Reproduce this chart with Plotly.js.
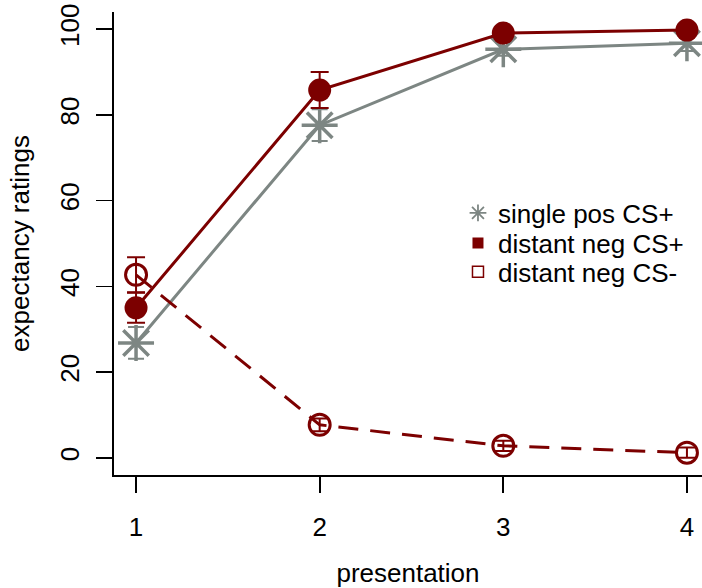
<!DOCTYPE html>
<html>
<head>
<meta charset="utf-8">
<script src="https://cdn.plot.ly/plotly-3.0.1.min.js"></script>
<style>html,body{margin:0;padding:0;background:#fff;}#chart{width:702px;height:588px;}</style>
</head>
<body>
<div id="chart"></div>
<script>
const presentation = [1, 2, 3, 4];
const tickLabels = ["1", "2", "3", "4"];
const singlePos = [26.8, 77.6, 95.3, 96.7];
const singlePosErr = [3.7, 3.7, 1.5, 1.8];
const distantNegPlus = [35.0, 85.8, 99.1, 99.8];
const distantNegPlusErr = [3.5, 4.2, 0.8, 0.5];
const distantNegMinus = [42.7, 7.7, 2.8, 1.2];
const distantNegMinusErr = [4.1, 1.5, 1.2, 1.2];
const seriesNames = ["single pos CS+", "distant neg CS+", "distant neg CS-"];

const RED = "#7c0000";
const GRAY = "#7d8683";
const FONT = "Liberation Sans, Arial, sans-serif";

const traces = [
  {
    x: presentation, y: singlePos, type: "scatter", mode: "lines+markers",
    line: {color: GRAY, width: 3},
    marker: {symbol: "asterisk-open", size: 30, color: GRAY, line: {color: GRAY, width: 3.5}},
    error_y: {type: "data", array: singlePosErr, visible: true, color: GRAY, thickness: 2, width: 8},
    showlegend: false, cliponaxis: false
  },
  {
    x: presentation, y: distantNegMinus, type: "scatter", mode: "lines+markers",
    line: {color: RED, width: 3, dash: "20px,12px"},
    marker: {symbol: "circle-open", size: 21, color: RED, line: {color: RED, width: 3}},
    error_y: {type: "data", array: distantNegMinusErr, visible: true, color: RED, thickness: 2, width: 9},
    showlegend: false, cliponaxis: false
  },
  {
    x: presentation, y: distantNegPlus, type: "scatter", mode: "lines+markers",
    line: {color: RED, width: 3},
    marker: {symbol: "circle", size: 23, color: RED, line: {width: 0}},
    error_y: {type: "data", array: distantNegPlusErr, visible: true, color: RED, thickness: 2, width: 9},
    showlegend: false, cliponaxis: false
  },
  {
    x: [null], y: [null], type: "scatter", mode: "markers", name: seriesNames[0], legend: "legend",
    marker: {symbol: "asterisk-open", size: 14, color: GRAY, line: {color: GRAY, width: 1.8}}
  },
  {
    x: [null], y: [null], type: "scatter", mode: "markers", name: seriesNames[1], legend: "legend2",
    marker: {symbol: "square", size: 11, color: RED, line: {width: 0}}
  },
  {
    x: [null], y: [null], type: "scatter", mode: "markers", name: seriesNames[2], legend: "legend3",
    marker: {symbol: "square-open", size: 11, color: RED, line: {color: RED, width: 1.5}}
  }
];

function leg(y) {
  return {x: 0.585, y: y, xanchor: "left", yanchor: "middle", bgcolor: "rgba(0,0,0,0)",
          borderwidth: 0, font: {size: 26, family: FONT, color: "#000"}};
}

const layout = {
  width: 702, height: 588,
  margin: {l: 114, r: 0, t: 12, b: 113, pad: 0},
  paper_bgcolor: "#fff", plot_bgcolor: "#fff",
  font: {family: FONT, size: 26, color: "#000"},
  showlegend: true,
  legend: leg(0.566),
  legend2: leg(0.501),
  legend3: leg(0.4385),
  xaxis: {
    range: [0.88, 4.082], tickvals: presentation, ticktext: tickLabels,
    showline: true, linecolor: "#000", linewidth: 1.7, mirror: false,
    ticks: "outside", ticklen: 16, tickwidth: 1.7, tickcolor: "#000",
    ticklabelstandoff: 12,
    showgrid: false, zeroline: false, automargin: false,
    tickfont: {size: 26},
    title: {text: "presentation", font: {size: 26}, standoff: 23}
  },
  yaxis: {
    range: [-4, 104], tickvals: [0, 20, 40, 60, 80, 100],
    showline: true, linecolor: "#000", linewidth: 1.7, mirror: false,
    ticks: "outside", ticklen: 16, tickwidth: 1.7, tickcolor: "#000",
    tickangle: -90, ticklabelstandoff: 7,
    showgrid: false, zeroline: false, automargin: false,
    tickfont: {size: 26},
    title: {text: "expectancy ratings", font: {size: 26}, standoff: 18}
  }
};

Plotly.newPlot("chart", traces, layout, {staticPlot: true, displayModeBar: false});
</script>
</body>
</html>
